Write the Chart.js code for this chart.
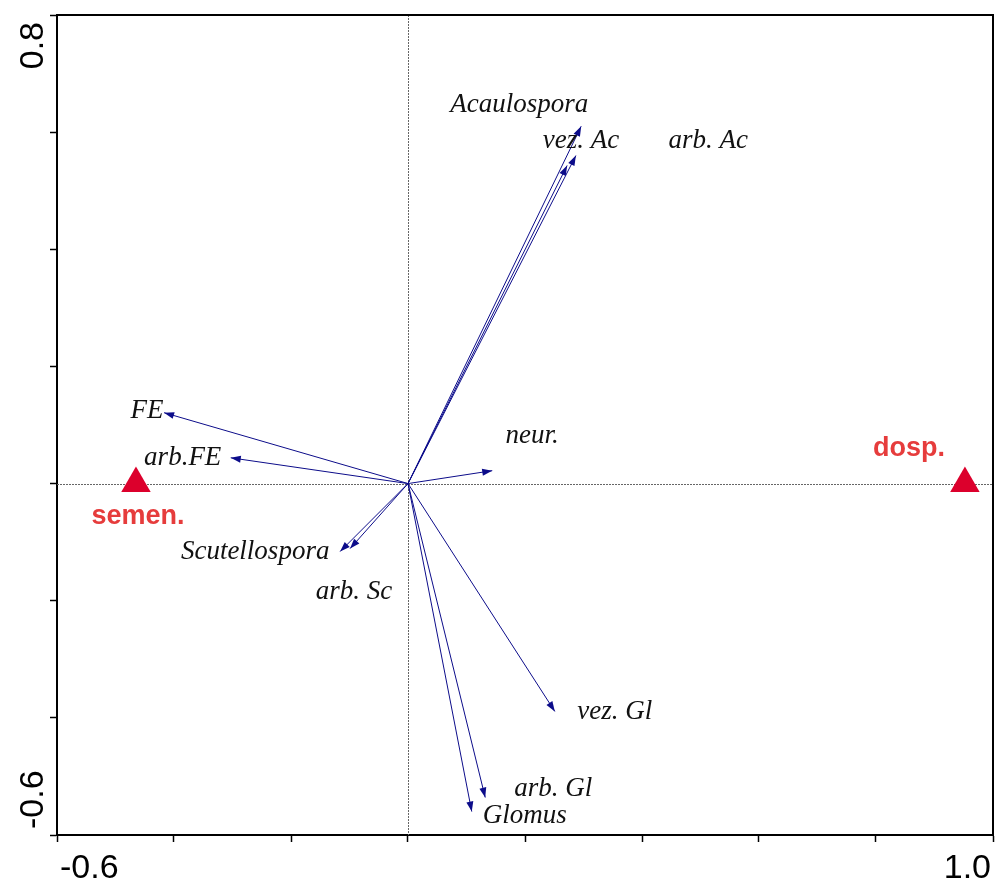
<!DOCTYPE html>
<html><head><meta charset="utf-8">
<script src="https://cdn.jsdelivr.net/npm/chart.js@4"></script>
<style>html,body{margin:0;padding:0;background:#fff;overflow:hidden;}canvas{display:block;}</style>
</head><body><canvas id="c" width="997" height="882"></canvas>
<script>
// ---- data ----
const speciesNames = ['Acaulospora','vez. Ac','arb. Ac','FE','arb.FE','neur.','Scutellospora','arb. Sc','vez. Gl','arb. Gl','Glomus'];
const speciesX = [0.296, 0.287, 0.272, -0.417, -0.303, 0.144, -0.116, -0.099, 0.251, 0.132, 0.109];
const speciesY = [0.610, 0.560, 0.543, 0.121, 0.044, 0.022, -0.116, -0.111, -0.389, -0.536, -0.560];
const sampleNames = ['semen.', 'dosp.'];
const sampleX = [-0.465, 0.952];
const sampleY = [0.0, 0.0];
const xTickLabels = ['-0.6', '1.0'];
const yTickLabels = ['-0.6', '0.8'];

// ---- label placement (pixel offsets from arrow tip / symbol) ----
const speciesLabelOffset = [[-62,-14],[5,-8],[141,-18],[-17,5],[-48,7],[40,-28],[-85,7],[4,50],[60,8],[68,-2],[53,11]];
const sampleLabelOffset = [[2,40],[-56,-28]];

const ARROW = '#0c0c8a';
const RED_SYM = '#dc002c';
const RED_TXT = '#e63c3c';

const datasets = speciesNames.map((n, i) => ({
  label: n,
  data: [{x: 0, y: 0}, {x: speciesX[i], y: speciesY[i]}],
  showLine: true,
  borderColor: ARROW,
  borderWidth: 1,
  pointRadius: 0,
  fill: false
}));
datasets.push({
  label: 'samples',
  data: sampleX.map((x, i) => ({x, y: sampleY[i]})),
  showLine: false,
  pointStyle: 'triangle',
  pointRadius: 17,
  pointBackgroundColor: RED_SYM,
  pointBorderWidth: 0,
  pointBorderColor: RED_SYM
});

const decor = {
  id: 'decor',
  beforeDatasetsDraw(chart) {
    const {ctx, chartArea: a, scales: {x, y}} = chart;
    ctx.save();
    ctx.strokeStyle = '#666';
    ctx.lineWidth = 1;
    ctx.setLineDash([2, 1]);
    const x0 = Math.round(x.getPixelForValue(0)) + 0.5;
    const y0 = Math.round(y.getPixelForValue(0)) + 0.5;
    ctx.beginPath();
    ctx.moveTo(x0, a.top); ctx.lineTo(x0, a.bottom);
    ctx.moveTo(a.left, y0); ctx.lineTo(a.right, y0);
    ctx.stroke();
    ctx.restore();
  },
  afterDatasetsDraw(chart) {
    const {ctx} = chart;
    ctx.save();
    speciesNames.forEach((n, i) => {
      const meta = chart.getDatasetMeta(i);
      const p0 = meta.data[0], p1 = meta.data[1];
      const ang = Math.atan2(p1.y - p0.y, p1.x - p0.x);
      const L = 10, W = 3.5;
      ctx.fillStyle = ARROW;
      ctx.beginPath();
      ctx.moveTo(p1.x, p1.y);
      ctx.lineTo(p1.x - L * Math.cos(ang) + W * Math.sin(ang), p1.y - L * Math.sin(ang) - W * Math.cos(ang));
      ctx.lineTo(p1.x - L * Math.cos(ang) - W * Math.sin(ang), p1.y - L * Math.sin(ang) + W * Math.cos(ang));
      ctx.closePath();
      ctx.fill();
      ctx.fillStyle = '#111';
      ctx.font = 'italic 27px "Liberation Serif", "Times New Roman", serif';
      ctx.textAlign = 'center';
      ctx.textBaseline = 'alphabetic';
      ctx.fillText(n, p1.x + speciesLabelOffset[i][0], p1.y + speciesLabelOffset[i][1]);
    });
    const smeta = chart.getDatasetMeta(speciesNames.length);
    sampleNames.forEach((n, i) => {
      const p = smeta.data[i];
      ctx.fillStyle = RED_TXT;
      ctx.font = 'bold 27px "Liberation Sans", Arial, sans-serif';
      ctx.textAlign = 'center';
      ctx.textBaseline = 'alphabetic';
      ctx.fillText(n, p.x + sampleLabelOffset[i][0], p.y + sampleLabelOffset[i][1]);
    });
    ctx.restore();
  },
  afterDraw(chart) {
    const {ctx, chartArea: a, scales: {x, y}} = chart;
    ctx.save();
    ctx.strokeStyle = '#000';
    ctx.lineWidth = 2;
    ctx.beginPath();
    ctx.moveTo(a.left, a.top); ctx.lineTo(a.right, a.top); ctx.lineTo(a.right, a.bottom);
    ctx.stroke();
    ctx.fillStyle = '#000';
    ctx.font = '34px "Liberation Sans", Arial, sans-serif';
    ctx.textBaseline = 'top';
    ctx.textAlign = 'left';
    ctx.fillText(xTickLabels[0], x.getPixelForValue(parseFloat(xTickLabels[0])) + 3, a.bottom + 17);
    ctx.textAlign = 'right';
    ctx.fillText(xTickLabels[1], x.getPixelForValue(parseFloat(xTickLabels[1])) - 2, a.bottom + 17);
    ctx.textBaseline = 'alphabetic';
    const bx = a.left - 14;
    ctx.save();
    ctx.translate(bx, y.getPixelForValue(parseFloat(yTickLabels[0])) - 6);
    ctx.rotate(-Math.PI / 2);
    ctx.textAlign = 'left';
    ctx.fillText(yTickLabels[0], 0, 0);
    ctx.restore();
    ctx.save();
    ctx.translate(bx, y.getPixelForValue(parseFloat(yTickLabels[1])) + 7);
    ctx.rotate(-Math.PI / 2);
    ctx.textAlign = 'right';
    ctx.fillText(yTickLabels[1], 0, 0);
    ctx.restore();
    ctx.restore();
  }
};

const axisCommon = {
  type: 'linear',
  ticks: {stepSize: 0.2, display: false},
  grid: {drawOnChartArea: false, drawTicks: true, tickLength: 7, tickColor: '#000', tickWidth: 1.5},
  border: {display: true, color: '#000', width: 2}
};

new Chart(document.getElementById('c'), {
  type: 'scatter',
  data: {datasets},
  options: {
    responsive: false,
    animation: false,
    devicePixelRatio: 1,
    layout: {autoPadding: false, padding: {left: 50, right: 4, top: 15, bottom: 40}},
    plugins: {legend: {display: false}, tooltip: {enabled: false}},
    scales: {
      x: Object.assign({}, axisCommon, {min: -0.6, max: 1.0}),
      y: Object.assign({}, axisCommon, {min: -0.6, max: 0.8})
    }
  },
  plugins: [decor]
});
</script>
</body></html>
